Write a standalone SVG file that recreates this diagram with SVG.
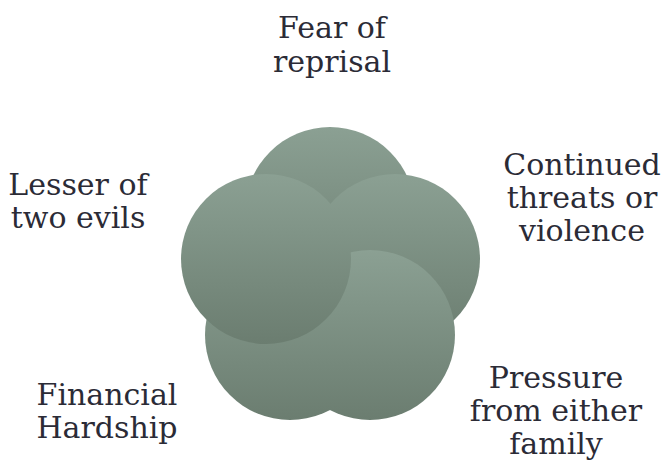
<svg xmlns="http://www.w3.org/2000/svg" width="665" height="465" viewBox="0 0 665 465">
<defs>
<linearGradient id="g" x1="0" y1="0" x2="0" y2="1">
<stop offset="0" stop-color="#8ba093"/>
<stop offset="1" stop-color="#6b7d70"/>
</linearGradient>
</defs>
<style>
.c{fill:url(#g);}
.t{font-family:"DejaVu Serif","Liberation Serif",serif;font-size:30px;fill:#2b2b36;text-anchor:middle;}
</style>
<rect width="665" height="465" fill="#ffffff"/>
<g id="node-top"><circle class="c" cx="330" cy="212" r="85"/></g>
<g id="node-right"><circle class="c" cx="395" cy="259" r="85"/></g>
<g id="node-bottom-right"><circle class="c" cx="370" cy="335" r="85"/></g>
<g id="node-bottom-left"><circle class="c" cx="290" cy="335" r="85"/></g>
<g id="node-left"><circle class="c" cx="266" cy="259" r="85"/></g>
<g id="connectors"></g>
<g id="labels">
<text class="t" x="332" y="38">Fear of</text>
<text class="t" x="332" y="72">reprisal</text>
<text class="t" x="582" y="175">Continued</text>
<text class="t" x="582" y="208">threats or</text>
<text class="t" x="582" y="241">violence</text>
<text class="t" x="556" y="388">Pressure</text>
<text class="t" x="556" y="421">from either</text>
<text class="t" x="556" y="454">family</text>
<text class="t" x="107" y="405">Financial</text>
<text class="t" x="107" y="438">Hardship</text>
<text class="t" x="78" y="195">Lesser of</text>
<text class="t" x="78" y="228">two evils</text>
</g>
</svg>
